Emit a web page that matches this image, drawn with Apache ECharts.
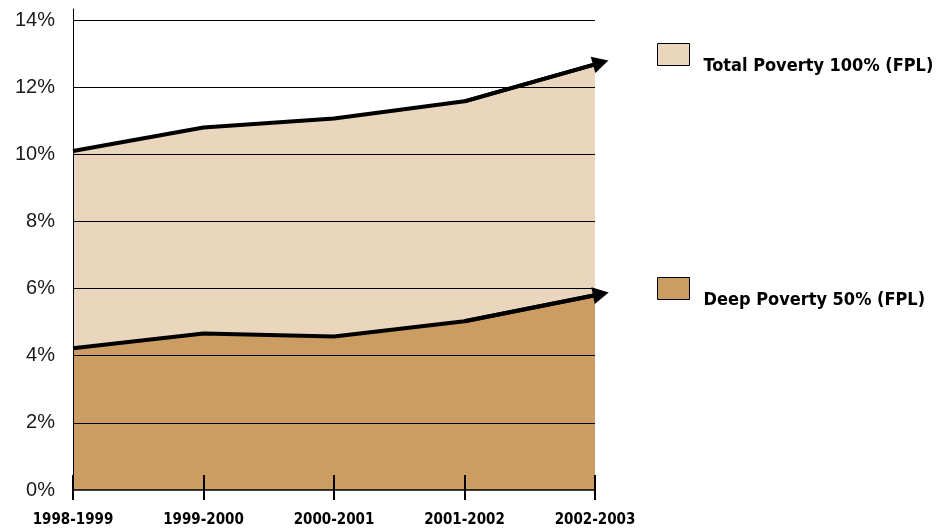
<!DOCTYPE html>
<html>
<head>
<meta charset="utf-8">
<script src="https://cdn.jsdelivr.net/npm/echarts@6/dist/echarts.min.js"></script>
<style>
html,body{margin:0;padding:0;background:#fff;}
#chart{width:943px;height:531px;}
</style>
</head>
<body>
<div id="chart"></div>
<script>
const categories = ['1998-1999', '1999-2000', '2000-2001', '2001-2002', '2002-2003'];
const totalPoverty = [10.1, 10.8, 11.07, 11.58, 12.68];
const deepPoverty = [4.22, 4.66, 4.57, 5.03, 5.8];
const seriesNames = ['Total Poverty 100% (FPL)', 'Deep Poverty 50% (FPL)'];
const yMin = 0, yMax = 14.33, yInterval = 2;

const narrow = '"Liberation Sans Narrow", "DejaVu Sans Condensed", "Arial Narrow", sans-serif';
const lightFill = '#EAD6BC';
const darkFill = '#CB9D63';

function arrowLine(values) {
  const n = values.length;
  return {
    silent: true,
    symbol: ['none', 'triangle'],
    symbolSize: [17, 16],
    symbolOffset: [0, [0, -6]],
    label: { show: false },
    lineStyle: { color: '#000', width: 4, type: 'solid' },
    itemStyle: { color: '#000' },
    emphasis: { disabled: true },
    data: [[
      { coord: [categories[n - 2], values[n - 2]] },
      { coord: [categories[n - 1], values[n - 1]] }
    ]]
  };
}

function legendFor(name, top) {
  return {
    data: [name],
    left: 652,
    top: top,
    orient: 'horizontal',
    icon: 'rect',
    itemWidth: 32,
    itemHeight: 22,
    selectedMode: false,
    itemStyle: { borderColor: '#000', borderWidth: 1 },
    formatter: n => '{t|' + n + '}',
    textStyle: {
      fontFamily: narrow, fontWeight: 'bold', fontSize: 18, color: '#000',
      rich: {
        t: {
          fontFamily: narrow, fontWeight: 'bold', fontSize: 18, color: '#000',
          lineHeight: 20, padding: [23, 0, 0, 9]
        }
      }
    }
  };
}

const chart = echarts.init(document.getElementById('chart'), null, { renderer: 'canvas' });
chart.setOption({
  animation: false,
  backgroundColor: '#fff',
  grid: { left: 73, right: 348, top: 9, bottom: 41, containLabel: false },
  legend: [legendFor(seriesNames[0], 29), legendFor(seriesNames[1], 263)],
  xAxis: [
    {
      type: 'category', data: categories, boundaryGap: false, position: 'bottom',
      axisLine: { show: true, lineStyle: { color: '#000', width: 1.5 } },
      axisTick: { show: true, inside: false, length: 10, lineStyle: { color: '#000', width: 2 } },
      axisLabel: { color: '#000', fontFamily: narrow, fontWeight: 'bold', fontSize: 15, margin: 23, interval: 0 },
      splitLine: { show: false }, z: 4
    },
    {
      type: 'category', data: categories, boundaryGap: false, position: 'bottom',
      axisLine: { show: false },
      axisTick: { show: true, inside: true, length: 15, lineStyle: { color: '#000', width: 2 } },
      axisLabel: { show: false },
      splitLine: { show: false }, z: 4
    }
  ],
  yAxis: {
    type: 'value', min: yMin, max: yMax, interval: yInterval,
    axisLine: { show: true, lineStyle: { color: '#000', width: 1 } },
    axisTick: { show: false },
    axisLabel: {
      color: '#1a1a1a', fontFamily: '"Liberation Sans", Arial, sans-serif', fontSize: 20, margin: 18,
      showMaxLabel: false,
      formatter: v => v + '%'
    },
    splitLine: { show: true, showMaxLine: false, showMinLine: false, lineStyle: { color: '#000', width: 1 } },
    z: 3
  },
  series: [
    {
      name: seriesNames[0], type: 'line', data: totalPoverty,
      color: lightFill, symbol: 'none', z: 1,
      lineStyle: { color: '#000', width: 4 },
      areaStyle: { color: lightFill, opacity: 1 },
      markLine: arrowLine(totalPoverty)
    },
    {
      name: seriesNames[1], type: 'line', data: deepPoverty,
      color: darkFill, symbol: 'none', z: 2,
      lineStyle: { color: '#000', width: 4 },
      areaStyle: { color: darkFill, opacity: 1 },
      markLine: arrowLine(deepPoverty)
    }
  ]
});
</script>
</body>
</html>
